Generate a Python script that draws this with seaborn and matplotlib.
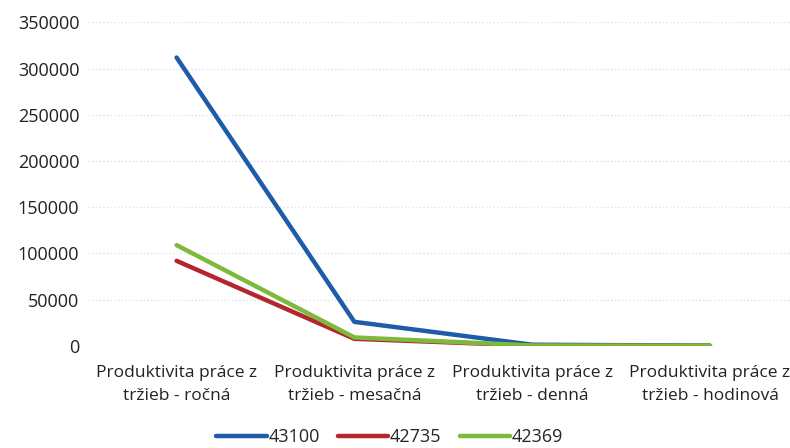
import pandas as pd
import matplotlib.pyplot as plt
import seaborn as sns

categories = ['Produktivita práce z\ntržieb - ročná', 'Produktivita práce z\ntržieb - mesačná',
              'Produktivita práce z\ntržieb - denná', 'Produktivita práce z\ntržieb - hodinová']
s43100 = [312000, 26000, 1250, 160]
s42735 = [92000, 7600, 370, 46]
s42369 = [109000, 9100, 440, 55]
series_names = ['43100', '42735', '42369']
colors = ['#1E5BA8', '#B3262D', '#7DBA3C']

data = pd.DataFrame({
    'kategoria': categories * 3,
    'hodnota': s43100 + s42735 + s42369,
    'rok': sum([[n] * 4 for n in series_names], []),
})
data['x'] = data['kategoria'].map({c: i for i, c in enumerate(categories)})

sns.set_style('white')
plt.rcParams['font.family'] = ['Open Sans', 'DejaVu Sans']

fig, ax = plt.subplots(figsize=(7.9, 4.48), dpi=100)
sns.lineplot(data=data, x='x', y='hodnota', hue='rok', palette=colors,
             linewidth=3.2, ax=ax, sort=False)

ax.set_xlim(-0.5, 3.45)
ax.set_ylim(0, 350000)
ax.set_yticks(range(0, 350001, 50000))
ax.set_xticks(range(4))
ax.set_xticklabels(categories, fontsize=12.5, color='#222222', linespacing=1.55)
ax.tick_params(axis='y', labelsize=13, colors='#222222', length=0, pad=6)
ax.tick_params(axis='x', length=0, pad=14)
ax.yaxis.grid(True, color='#e0e0ec', linestyle=':', linewidth=1)
ax.set_xlabel('')
ax.set_ylabel('')
for s in ax.spines.values():
    s.set_visible(False)

ax.legend(loc='upper center', bbox_to_anchor=(0.43, -0.205), ncol=3, frameon=False,
          fontsize=13, handlelength=2.8, handletextpad=0.1, columnspacing=1.0)

plt.subplots_adjust(left=0.111, right=1.0, top=0.95, bottom=0.228)
plt.savefig('out.png', dpi=100)
